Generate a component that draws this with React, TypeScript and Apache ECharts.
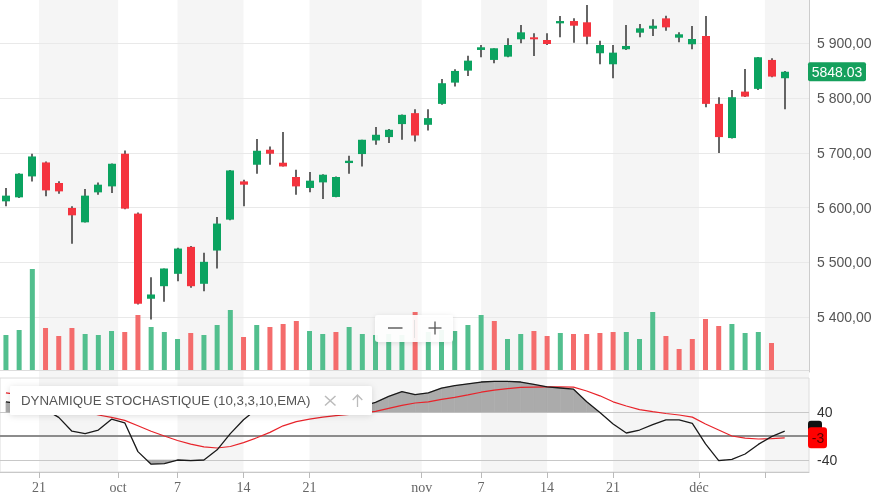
import React, { useEffect, useRef } from 'react';
import * as echarts from 'echarts';

// ---- Data ----
// 60 trading days, 18 Sep 2024 .. 10 Dec 2024 (index = trading day)
const opens = [
  5611.5, 5618.8, 5657.0, 5682.5, 5645.0, 5599.5, 5573.2, 5627.9, 5638.8, 5698.4,
  5589.1, 5433.7, 5456.6, 5479.2, 5528.4, 5461.0, 5521.7, 5578.1, 5647.9, 5678.3,
  5705.7, 5682.0, 5655.9, 5635.9, 5646.1, 5619.5, 5681.4, 5697.8, 5722.6, 5728.8,
  5752.5, 5772.5, 5751.2, 5789.4, 5828.2, 5850.1, 5887.8, 5869.6, 5875.6, 5907.3,
  5910.9, 5906.0, 5936.4, 5940.6, 5938.3, 5881.8, 5861.7, 5889.1, 5919.3, 5926.6,
  5945.5, 5910.2, 5898.2, 5913.3, 5789.4, 5727.0, 5811.8, 5816.8, 5869.6, 5836.2,
];
const closes = [
  5621.9, 5661.9, 5693.4, 5631.5, 5629.7, 5586.0, 5621.9, 5641.9, 5680.1, 5598.2,
  5424.6, 5441.5, 5488.9, 5525.3, 5456.6, 5501.1, 5570.9, 5667.9, 5641.9, 5703.8,
  5698.4, 5675.2, 5638.8, 5649.2, 5660.1, 5655.9, 5685.6, 5723.9, 5733.0, 5742.1,
  5769.4, 5731.7, 5763.4, 5827.1, 5849.5, 5868.3, 5892.7, 5890.9, 5896.9, 5920.0,
  5907.3, 5898.7, 5940.6, 5932.1, 5912.0, 5896.9, 5882.9, 5895.1, 5927.3, 5932.1,
  5929.1, 5916.4, 5907.8, 5789.4, 5728.8, 5801.6, 5802.7, 5874.5, 5839.2, 5848.03,
];
const lows = [
  5602.4, 5617.7, 5647.9, 5620.6, 5625.5, 5533.9, 5573.0, 5623.7, 5626.8, 5597.0,
  5423.0, 5396.0, 5428.2, 5465.8, 5453.7, 5447.5, 5488.9, 5577.0, 5602.4, 5661.9,
  5678.3, 5675.0, 5623.7, 5628.0, 5615.8, 5619.0, 5661.9, 5675.2, 5714.8, 5717.8,
  5723.9, 5720.8, 5740.8, 5787.6, 5821.0, 5840.4, 5874.5, 5863.6, 5874.5, 5900.0,
  5876.9, 5896.9, 5910.9, 5901.1, 5898.2, 5861.7, 5836.2, 5887.8, 5910.9, 5913.3,
  5923.0, 5901.8, 5889.1, 5783.4, 5699.6, 5726.0, 5802.0, 5814.9, 5838.0, 5779.8,
];
const highs = [
  5635.9, 5663.0, 5698.4, 5684.3, 5648.0, 5602.4, 5634.1, 5646.0, 5680.5, 5704.4,
  5591.0, 5473.0, 5489.0, 5527.0, 5530.0, 5517.5, 5583.0, 5668.5, 5651.0, 5725.1,
  5711.7, 5737.9, 5669.0, 5665.0, 5661.0, 5657.0, 5694.7, 5724.0, 5747.0, 5743.4,
  5770.0, 5779.8, 5779.8, 5835.0, 5852.6, 5877.4, 5896.9, 5891.0, 5909.1, 5933.3,
  5918.2, 5918.2, 5949.7, 5945.5, 5969.8, 5904.7, 5896.9, 5933.3, 5935.2, 5943.7,
  5950.3, 5920.0, 5931.5, 5949.7, 5801.6, 5814.9, 5853.2, 5875.0, 5872.7, 5849.5,
];
// volume, millions (last session has none yet)
const volumes: (number | null)[] = [
  3.5, 4.0, 10.1, 4.2, 3.4, 4.2, 3.6, 3.5, 3.9, 3.8,
  5.5, 4.3, 3.8, 3.1, 3.7, 3.5, 4.5, 6.0, 3.3, 4.5,
  4.3, 4.6, 4.9, 3.9, 3.6, 3.8, 4.3, 3.6, 3.5, 3.6,
  3.5, 5.8, 3.8, 4.0, 3.9, 4.5, 5.5, 4.9, 3.1, 3.6,
  3.9, 3.4, 3.7, 3.6, 3.6, 3.7, 3.8, 3.8, 3.1, 5.8,
  3.4, 2.1, 3.1, 5.1, 4.4, 4.6, 3.7, 3.8, 2.7, null,
];
// stochastic momentum (%K black, %D red)
const stochK = [
  57, 54, 52, 44, 31, 8, 4, 10, 28, 22,
  -26, -47, -46, -40, -41, -40, -23, 4, 27, 45,
  55, 58, 52, 46, 42, 44, 47, 50, 56, 66,
  74, 69, 72, 80, 84, 87, 90, 91, 91, 90,
  86, 82, 80, 78, 57, 39, 20, 5, 10, 19,
  27, 27, 21, -13, -41, -39, -30, -14, -1, 8,
];
const stochD = [
  72, 69, 66, 62, 56, 48, 41, 35, 31, 26,
  17, 8, 0, -7.5, -13.5, -18, -20, -17.5, -11, -3,
  6, 17, 24, 28, 31.5, 34, 36, 38.5, 41, 46,
  51, 55, 57, 61, 64.5, 68.5, 73, 76.5, 79, 81,
  81.5, 82, 82, 81.5, 75, 67, 57, 50, 44, 40.5,
  37.5, 35, 31.5, 20, 10, 0, -3.5, -5, -4.5, -3,
];
// x-axis ticks (position in trading-day index) and their labels
const tickValues = [2.5, 8.5, 13, 18, 23, 31.5, 36, 41, 46, 52.5, 57.5];
const tickLabels = ['21', 'oct', '7', '14', '21', 'nov', '7', '14', '21', 'déc', ''];
const stochLevels = [40, 0, -40];
const OVERBOUGHT = 40;
const OVERSOLD = -40;
const legendTitle = 'DYNAMIQUE STOCHASTIQUE (10,3,3,10,EMA)';

const X_MIN = -0.45;
const X_MAX = 60.84;
const GREEN = '#0ba360';
const RED = '#f4333e';
const VGREEN = '#52bf8e';
const VRED = '#f46c6c';
const FILL = '#ababab';
const SANS = 'Liberation Sans';

function frPrice(v: number): string {
  const th = Math.floor(v / 1000);
  const rest = String(Math.round(v % 1000)).padStart(3, '0');
  return `${th} ${rest},00`;
}

// polygon (in data space) of the part of segment (x0,a)-(x1,b) beyond threshold t
function beyond(x0: number, a: number, x1: number, b: number, t: number, above: boolean): number[][] | null {
  const out = (v: number) => (above ? v > t : v < t);
  const ia = out(a), ib = out(b);
  if (!ia && !ib) return null;
  if (ia && ib) return [[x0, t], [x0, a], [x1, b], [x1, t]];
  const xc = x0 + ((t - a) / (b - a)) * (x1 - x0);
  if (ia) return [[x0, t], [x0, a], [xc, t]];
  return [[xc, t], [x1, b], [x1, t]];
}

export default function App() {
  const ref = useRef<HTMLDivElement>(null);

  useEffect(() => {
    if (!ref.current) return;
    const chart = echarts.init(ref.current, undefined, { renderer: 'svg' });

    // bands between alternate tick pairs
    const bandEdges = [...tickValues, X_MAX];
    const bands: number[][] = [];
    for (let k = 0; k + 1 < bandEdges.length; k += 2) bands.push([bandEdges[k], bandEdges[k + 1]]);

    const candleData = opens.map((o, i) => [i, o, closes[i], lows[i], highs[i]]);
    const volumeData: any[] = [];
    volumes.forEach((v, i) => {
      if (v == null) return;
      const up = i === 0 || closes[i] >= closes[i - 1];
      volumeData.push({ value: [i, v], itemStyle: { color: up ? VGREEN : VRED } });
    });
    const segData = stochK.slice(0, -1).map((k, i) => [i, k, stochK[i + 1]]);

    const xBase = { type: 'value', min: X_MIN, max: X_MAX };

    const option: any = {
      animation: false,
      textStyle: { fontFamily: SANS },
      grid: [
        { left: 0, top: 0, width: 809, height: 472 },
        { left: 0, top: 0, width: 809, height: 372 },
        { left: 0, top: 266, width: 809, height: 104 },
        { left: 0, top: 378, width: 809, height: 94, show: true, borderColor: '#dcdcdc', borderWidth: 1 },
      ],
      xAxis: [
        { ...xBase, gridIndex: 0, show: false },
        { ...xBase, gridIndex: 1, show: false },
        {
          ...xBase, gridIndex: 2,
          axisLine: { show: true, onZero: false, lineStyle: { color: '#dddddd' } },
          axisTick: { show: false }, axisLabel: { show: false }, splitLine: { show: false },
        },
        {
          ...xBase, gridIndex: 3,
          axisLine: { show: true, onZero: false, lineStyle: { color: '#c8c8c8' } },
          axisTick: { show: true, customValues: tickValues, length: 6, lineStyle: { color: '#bbbbbb' } },
          axisLabel: {
            customValues: tickValues,
            formatter: (v: number) => {
              const k = tickValues.findIndex((t) => Math.abs(t - v) < 1e-6);
              return k >= 0 ? tickLabels[k] : '';
            },
            fontFamily: 'Liberation Serif', fontSize: 14, color: '#666', margin: 8,
          },
          splitLine: { show: false },
        },
      ],
      yAxis: [
        { gridIndex: 0, type: 'value', min: 0, max: 1, show: false },
        {
          gridIndex: 1, type: 'value', position: 'right', min: 5300, max: 5979, interval: 100,
          axisLine: { show: true, onZero: false, lineStyle: { color: '#cccccc' } },
          axisTick: { show: false },
          axisLabel: {
            formatter: (v: number) => (Math.abs(v % 100) > 1e-6 || v <= 5300 ? '' : frPrice(v)),
            fontSize: 14, color: '#555', margin: 8, fontFamily: SANS,
          },
          splitLine: { show: true, showMinLine: false, showMaxLine: false, lineStyle: { color: '#e9e9e9' } },
        },
        { gridIndex: 2, type: 'value', min: 0, max: 10.4, show: false },
        {
          gridIndex: 3, type: 'value', position: 'right', min: -60, max: 96.7, interval: 20,
          axisLine: { show: false, onZero: false },
          axisTick: { show: false },
          axisLabel: {
            formatter: (v: number) => (v === 40 || v === -40 ? String(v) : ''),
            fontSize: 14, color: '#333', margin: 8, fontFamily: SANS,
          },
          splitLine: { show: false },
        },
      ],
      series: [
        {
          type: 'custom', xAxisIndex: 0, yAxisIndex: 0, data: bands, silent: true, z: -1,
          encode: { x: [0, 1] },
          renderItem: (_p: any, api: any) => {
            const a = api.coord([api.value(0), 1]);
            const b = api.coord([api.value(1), 0]);
            return {
              type: 'rect',
              shape: { x: a[0], y: a[1], width: b[0] - a[0], height: b[1] - a[1] },
              style: { fill: '#f5f5f5' },
            };
          },
        },
        {
          type: 'custom', xAxisIndex: 1, yAxisIndex: 1, data: candleData, z: 3,
          encode: { x: 0, y: [1, 2, 3, 4] },
          renderItem: (_p: any, api: any) => {
            const i = api.value(0);
            const o = api.value(1), c = api.value(2), l = api.value(3), h = api.value(4);
            const pO = api.coord([i, o]);
            const pC = api.coord([i, c]);
            const pL = api.coord([i, l]);
            const pH = api.coord([i, h]);
            const up = c >= o;
            const top = Math.min(pO[1], pC[1]);
            const ht = Math.max(Math.abs(pO[1] - pC[1]), 2);
            const cx = Math.round(pO[0]);
            return {
              type: 'group',
              children: [
                { type: 'line', shape: { x1: cx, y1: pH[1], x2: cx, y2: pL[1] }, style: { stroke: '#333', lineWidth: 1.5 } },
                { type: 'rect', shape: { x: cx - 4, y: top, width: 8, height: ht }, style: { fill: up ? GREEN : RED } },
              ],
            };
          },
        },
        { type: 'bar', xAxisIndex: 2, yAxisIndex: 2, data: volumeData, barWidth: 5, z: 4 },
        {
          type: 'custom', xAxisIndex: 3, yAxisIndex: 3, data: segData, silent: true, z: 2,
          encode: { x: 0, y: [1, 2] },
          renderItem: (_p: any, api: any) => {
            const i = api.value(0);
            const a = api.value(1), b = api.value(2);
            const children: any[] = [];
            const polys = [beyond(i, a, i + 1, b, OVERBOUGHT, true), beyond(i, a, i + 1, b, OVERSOLD, false)];
            polys.forEach((pts) => {
              if (!pts) return;
              children.push({
                type: 'polygon',
                shape: { points: pts.map((p) => api.coord(p)) },
                style: { fill: FILL, stroke: FILL, lineWidth: 0.6 },
              });
            });
            return { type: 'group', children };
          },
        },
        {
          type: 'line', xAxisIndex: 3, yAxisIndex: 3, symbol: 'none', z: 5,
          data: stochD.map((d, i) => [i, d]),
          lineStyle: { color: '#e8232a', width: 1.2 },
          markLine: {
            silent: true, symbol: ['none', 'none'], label: { show: false }, z: 1,
            data: stochLevels.map((lv) => ({
              yAxis: lv,
              lineStyle: lv === 0 ? { color: '#8c8c8c', width: 2, type: 'solid' } : { color: '#c8c8c8', width: 1, type: 'solid' },
            })),
          },
        },
        {
          type: 'line', xAxisIndex: 3, yAxisIndex: 3, symbol: 'none', z: 6,
          data: stochK.map((k, i) => [i, k]),
          lineStyle: { color: '#1a1a1a', width: 1.3 },
        },
      ],
    };
    chart.setOption(option);

    const last = closes.length - 1;
    const lastClose = closes[last];
    const lastK = stochK[last];
    const lastD = stochD[last];
    const yClose = (chart.convertToPixel({ gridIndex: 1 } as any, [last, lastClose]) as number[])[1];
    const yK = (chart.convertToPixel({ gridIndex: 3 } as any, [last, lastK]) as number[])[1];
    const yD = (chart.convertToPixel({ gridIndex: 3 } as any, [last, lastD]) as number[])[1];

    const graphics: any[] = [
      // stochastic value tags
      { type: 'rect', z: 100, shape: { x: 808, y: yK - 10.5, width: 14, height: 21, r: 3 }, style: { fill: '#111' } },
      { type: 'rect', z: 101, shape: { x: 808, y: yD - 10.5, width: 19, height: 21, r: 3 }, style: { fill: '#ff0000' } },
      {
        type: 'text', z: 102, x: 818, y: yD,
        style: { text: String(Math.round(lastD)), fill: '#5c0000', fontSize: 14, fontFamily: SANS, align: 'center', verticalAlign: 'middle' },
      },
      // last price tag
      { type: 'rect', z: 100, shape: { x: 808, y: yClose - 9.5, width: 58, height: 19, r: 2 }, style: { fill: '#15a05d' } },
      {
        type: 'text', z: 101, x: 837, y: yClose,
        style: { text: lastClose.toFixed(2), fill: '#fff', fontSize: 14, fontFamily: SANS, align: 'center', verticalAlign: 'middle' },
      },
      // indicator legend box
      {
        type: 'rect', z: 100, shape: { x: 10, y: 386, width: 362, height: 29, r: 2 },
        style: { fill: '#ffffff', shadowBlur: 6, shadowColor: 'rgba(0,0,0,0.13)', shadowOffsetY: 1 },
      },
      {
        type: 'text', z: 101, x: 21, y: 400.5,
        style: { text: legendTitle, fill: '#555', fontSize: 13.3, fontFamily: SANS, align: 'left', verticalAlign: 'middle' },
      },
      { type: 'line', z: 101, shape: { x1: 325, y1: 396, x2: 335.5, y2: 405.5 }, style: { stroke: '#bbb', lineWidth: 1.5 } },
      { type: 'line', z: 101, shape: { x1: 335.5, y1: 396, x2: 325, y2: 405.5 }, style: { stroke: '#bbb', lineWidth: 1.5 } },
      { type: 'line', z: 101, shape: { x1: 357.5, y1: 395, x2: 357.5, y2: 407 }, style: { stroke: '#bbb', lineWidth: 1.3 } },
      { type: 'polyline', z: 101, shape: { points: [[352.7, 400], [357.5, 395], [362.3, 400]] }, style: { stroke: '#bbb', lineWidth: 1.3, fill: 'none' } },
      // zoom control
      {
        type: 'rect', z: 100, shape: { x: 375, y: 315, width: 78, height: 27, r: 3 },
        style: { fill: 'rgba(255,255,255,0.92)', shadowBlur: 5, shadowColor: 'rgba(0,0,0,0.12)', shadowOffsetY: 1 },
      },
      { type: 'line', z: 101, shape: { x1: 388, y1: 328, x2: 402.5, y2: 328 }, style: { stroke: '#555', lineWidth: 1.4 } },
      { type: 'line', z: 101, shape: { x1: 414.5, y1: 320, x2: 414.5, y2: 338 }, style: { stroke: '#e2e2e2', lineWidth: 1 } },
      { type: 'line', z: 101, shape: { x1: 428.5, y1: 328, x2: 441.5, y2: 328 }, style: { stroke: '#555', lineWidth: 1.3 } },
      { type: 'line', z: 101, shape: { x1: 435, y1: 321.5, x2: 435, y2: 334.5 }, style: { stroke: '#555', lineWidth: 1.3 } },
    ];
    chart.setOption({ graphic: graphics });

    return () => chart.dispose();
  }, []);

  return <div ref={ref} style={{ position: 'fixed', left: 0, top: 0, width: 883, height: 501 }} />;
}
